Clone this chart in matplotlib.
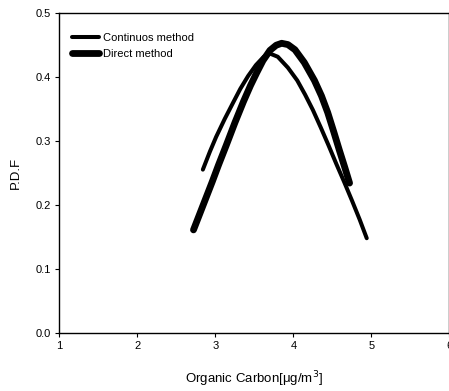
import matplotlib.pyplot as plt

plt.rcParams['font.family'] = ['Liberation Sans', 'DejaVu Sans']

# values
cont_x = [2.84, 2.93, 3.01, 3.12, 3.23, 3.32, 3.42, 3.52, 3.62, 3.70, 3.80, 3.93, 4.05, 4.15,
          4.25, 4.35, 4.45, 4.55, 4.65, 4.75, 4.85, 4.94]
cont_y = [0.255, 0.283, 0.306, 0.334, 0.360, 0.381, 0.401, 0.418, 0.431, 0.436, 0.431, 0.414,
          0.394, 0.372, 0.348, 0.321, 0.293, 0.264, 0.236, 0.207, 0.177, 0.148]

direct_x = [2.72, 2.80, 2.88, 2.96, 3.04, 3.14, 3.25, 3.36, 3.45, 3.53, 3.61, 3.70, 3.78, 3.85,
            3.93, 4.02, 4.14, 4.27, 4.36, 4.44, 4.52, 4.59, 4.66, 4.72]
direct_y = [0.161, 0.186, 0.211, 0.236, 0.262, 0.293, 0.328, 0.361, 0.386, 0.406, 0.425, 0.441,
            0.449, 0.452, 0.450, 0.442, 0.422, 0.394, 0.370, 0.344, 0.313, 0.285, 0.258, 0.234]

xticks = [1, 2, 3, 4, 5, 6]
yticks = [0.0, 0.1, 0.2, 0.3, 0.4, 0.5]

fig = plt.figure(figsize=(4.49, 3.91), dpi=100)
ax = fig.add_axes([0.132, 0.148, 0.869, 0.820])

ax.plot(cont_x, cont_y, color='black', lw=2.9, solid_capstyle='round',
        solid_joinstyle='round', label='Continuos method')
ax.plot(direct_x, direct_y, color='black', lw=4.9, solid_capstyle='round',
        solid_joinstyle='round', label='Direct method')

ax.set_xlim(1, 6)
ax.set_ylim(0, 0.5)
ax.set_xticks(xticks)
ax.set_yticks(yticks)
ax.set_yticklabels([f"{v:.1f}" for v in yticks])
ax.tick_params(direction='out', length=3, width=0.8, labelsize=8, pad=3)
for s in ax.spines.values():
    s.set_linewidth(1.0)

ax.set_xlabel('Organic Carbon[\u03bcg/m$^3$]', fontsize=9.5, labelpad=13)
ax.set_ylabel('P.D.F', fontsize=9.5, labelpad=10)

ax.legend(loc='upper left', frameon=False, fontsize=8, handlelength=2.5,
          handletextpad=0.3, labelspacing=0.55, borderaxespad=1.0,
          bbox_to_anchor=(-0.008, 0.985))

fig.savefig('out.png', dpi=100)
